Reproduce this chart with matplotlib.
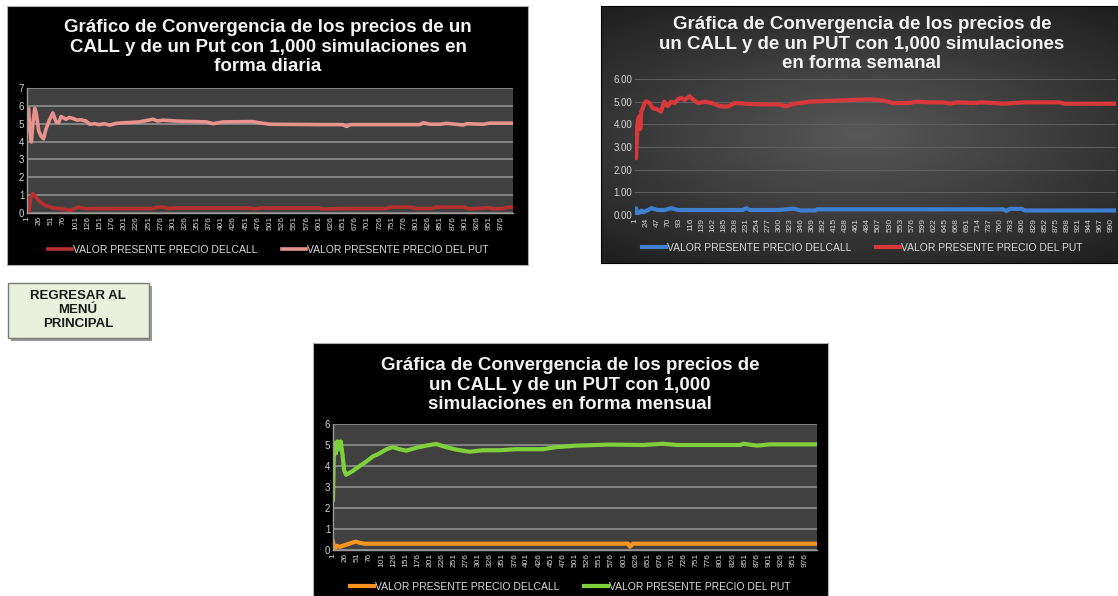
import matplotlib.pyplot as plt
from matplotlib.patches import Rectangle
from matplotlib.colors import LinearSegmentedColormap
import numpy as np

plt.rcParams['font.family'] = ['Liberation Sans', 'DejaVu Sans']

W, H = 1118, 596

# simulacion diaria (numero de simulacion, valor presente)
dia_call_x = [1, 5, 8, 12, 15, 20, 27, 34, 41, 54, 65, 75, 89, 100, 106, 115, 123, 160, 232, 262, 268,
              285, 290, 300, 380, 460, 470, 480, 600, 610, 650, 740, 745, 760, 790, 800, 834, 840,
              900, 910, 950, 960, 980, 990, 1000]
dia_call_y = [0.05, 0.05, 0.8, 1.08, 1.05, 0.85, 0.65, 0.5, 0.4, 0.28, 0.25, 0.22, 0.15, 0.25, 0.33,
              0.27, 0.24, 0.25, 0.25, 0.25, 0.33, 0.32, 0.24, 0.28, 0.28, 0.28, 0.22, 0.28, 0.28,
              0.22, 0.25, 0.25, 0.33, 0.33, 0.33, 0.25, 0.25, 0.33, 0.33, 0.22, 0.3, 0.22, 0.25,
              0.33, 0.33]
dia_put_x = [1, 4, 7, 10, 13, 17, 20, 25, 30, 35, 40, 47, 54, 61, 66, 71, 78, 81, 88, 95, 104, 112,
             122, 130, 140, 150, 160, 171, 184, 200, 232, 260, 270, 280, 308, 370, 384, 404, 465,
             479, 500, 603, 650, 658, 666, 808, 816, 830, 850, 863, 898, 905, 939, 952, 1000]
dia_put_y = [5.1, 5.85, 4.6, 3.98, 5.0, 5.85, 5.6, 4.6, 4.3, 4.15, 4.7, 5.2, 5.6, 5.1, 5.05, 5.4,
             5.3, 5.25, 5.35, 5.3, 5.2, 5.22, 5.15, 4.97, 5.0, 4.95, 5.0, 4.92, 5.02, 5.05, 5.1,
             5.25, 5.15, 5.2, 5.15, 5.1, 5.0, 5.1, 5.12, 5.05, 4.97, 4.95, 4.95, 4.85, 4.95, 4.95,
             5.05, 4.97, 4.97, 5.02, 4.93, 5.0, 4.97, 5.03, 5.03]

# simulacion semanal
sem_call_x = [1, 3, 6, 10, 14, 18, 21, 28, 35, 48, 62, 76, 90, 225, 232, 240, 300, 330, 345, 375,
              380, 766, 772, 780, 805, 810, 1000]
sem_call_y = [0.05, 0.3, 0.08, 0.1, 0.2, 0.12, 0.15, 0.22, 0.3, 0.22, 0.22, 0.3, 0.22, 0.22, 0.3,
              0.22, 0.22, 0.28, 0.2, 0.2, 0.25, 0.25, 0.18, 0.27, 0.27, 0.2, 0.2]
sem_put_x = [1, 3, 5, 7, 10, 12, 14, 17, 21, 24, 31, 38, 48, 55, 62, 69, 76, 83, 90, 97, 104, 114,
             121, 132, 146, 160, 180, 194, 208, 229, 260, 300, 315, 329, 364, 419, 488, 516, 537,
             571, 585, 613, 640, 655, 670, 704, 720, 766, 790, 808, 884, 891, 1000]
sem_put_y = [3.8, 2.5, 3.4, 4.2, 4.35, 3.8, 4.57, 4.7, 4.94, 5.02, 4.94, 4.72, 4.65, 4.57, 5.0,
             4.8, 5.0, 4.94, 5.1, 5.16, 5.08, 5.24, 5.1, 4.94, 5.0, 4.94, 4.79, 4.79, 4.94, 4.91,
             4.88, 4.88, 4.79, 4.9, 5.0, 5.05, 5.1, 5.05, 4.94, 4.94, 5.0, 4.97, 4.97, 4.91, 4.97,
             4.94, 4.97, 4.91, 4.94, 4.97, 4.97, 4.91, 4.91]

# simulacion mensual
men_call_x = [1, 4, 8, 15, 21, 28, 41, 48, 55, 65, 610, 614, 620, 1000]
men_call_y = [0.4, 0.05, 0.2, 0.15, 0.2, 0.25, 0.35, 0.4, 0.35, 0.3, 0.3, 0.15, 0.3, 0.3]
men_put_x = [1, 3, 7, 10, 14, 17, 21, 24, 28, 41, 55, 69, 83, 97, 110, 124, 138, 152, 172, 193,
             214, 234, 255, 283, 310, 345, 379, 434, 462, 503, 572, 641, 683, 710, 841, 848, 876,
             903, 1000]
men_put_y = [2.4, 5.1, 4.6, 5.17, 4.8, 5.17, 4.45, 3.8, 3.58, 3.75, 3.98, 4.2, 4.45, 4.6, 4.78,
             4.9, 4.8, 4.73, 4.86, 4.97, 5.05, 4.9, 4.78, 4.68, 4.75, 4.75, 4.8, 4.8, 4.9, 4.97,
             5.02, 5.0, 5.06, 5.0, 5.0, 5.06, 4.97, 5.03, 5.03]

leg_call = 'VALOR PRESENTE PRECIO DELCALL'
leg_put = 'VALOR PRESENTE PRECIO DEL PUT'


def rect(x0, y0, x1, y1):
    return [x0 / W, 1 - y1 / H, (x1 - x0) / W, (y1 - y0) / H]


def fx(x):
    return x / W


def fy(y):
    return 1 - y / H


fig = plt.figure(figsize=(W / 100, H / 100), dpi=100, facecolor='white')


def panel(box, plot_box, title, tcenter, ttop, ymax, yfmt, step, series, leg_y,
          face='#404040', grid='#8a8a8a', gradient=False, lw=2.6):
    bg = fig.add_axes(rect(*box), zorder=0)
    if gradient:
        gx, gy = np.meshgrid(np.linspace(-1, 1, 200), np.linspace(-1, 1, 100))
        r = np.sqrt((gx * 0.9) ** 2 + (gy * 1.1) ** 2)
        cmap = LinearSegmentedColormap.from_list('g', ['#585858', '#3c3c3c', '#1f1f1f'])
        bg.imshow(r, cmap=cmap, aspect='auto', extent=[0, 1, 0, 1], vmin=0, vmax=1.4)
        bg.set_xlim(0, 1)
        bg.set_ylim(0, 1)
    else:
        bg.set_facecolor('black')
        for s in bg.spines.values():
            s.set_color('#b0b0b0')
            s.set_linewidth(0.8)
    bg.set_xticks([])
    bg.set_yticks([])

    ax = fig.add_axes(rect(*plot_box), zorder=1)
    if face is None:
        ax.patch.set_alpha(0)
        for s in ax.spines.values():
            s.set_visible(False)
    else:
        ax.set_facecolor(face)
        for s in ax.spines.values():
            s.set_color('#9a9a9a')
            s.set_linewidth(1.0)
        ax.spines['top'].set_visible(False)
        ax.spines['right'].set_visible(False)
    for xs, ys, c, lab in series:
        ax.plot(xs, ys, color=c, lw=lw, label=lab, solid_joinstyle='round')
    ax.set_xlim(1, 1000)
    ax.set_ylim(0, ymax)
    ax.set_yticks(range(0, ymax + 1))
    ax.set_yticklabels([yfmt.format(v) for v in range(0, ymax + 1)])
    ax.yaxis.grid(True, color=grid, lw=1.3 if face else 0.8)
    ax.set_axisbelow(True)
    ticks = list(range(1, 1001, step))
    ax.set_xticks(ticks)
    ax.set_xticklabels([str(t) for t in ticks], rotation=90, fontsize=6)
    ax.tick_params(axis='both', length=0, colors='#d4d4d4', pad=2)
    ax.tick_params(axis='y', labelsize=7)

    fig.text(fx(tcenter), fy(ttop), title, ha='center', va='top', color='#f2f2f2',
             fontsize=13.5, fontweight='bold', linespacing=1.2)
    leg = ax.legend(loc='center', bbox_to_anchor=(fx(tcenter), fy(leg_y)),
                    bbox_transform=fig.transFigure, ncol=2, frameon=False, fontsize=7.5,
                    handlelength=2.3, handletextpad=0.1, columnspacing=2.4)
    for t in leg.get_texts():
        t.set_color('#d9d9d9')
    return ax


panel((7, 6, 528, 265), (27, 88, 513, 213),
      'Gráfico de Convergencia de los precios de un\nCALL y de un Put con 1,000 simulaciones en\nforma diaria',
      268, 19, 7, '{:d}', 25,
      [(dia_call_x, dia_call_y, '#b8302e', leg_call), (dia_put_x, dia_put_y, '#e8928d', leg_put)],
      250)

panel((601, 6, 1118, 263), (635, 79, 1116, 215),
      'Gráfica de Convergencia de los precios de\nun CALL y de un PUT con 1,000 simulaciones\nen forma semanal',
      862, 16, 6, '{:.2f}', 23,
      [(sem_call_x, sem_call_y, '#3f7fd0', leg_call), (sem_put_x, sem_put_y, '#d9383a', leg_put)],
      248, face=None, grid='#5e5e5e', gradient=True, lw=3.0)

panel((313, 343, 828, 596), (333, 424, 817, 550),
      'Gráfica de Convergencia de los precios de\nun CALL y de un PUT con 1,000\nsimulaciones en forma mensual',
      570, 357, 6, '{:d}', 25,
      [(men_call_x, men_call_y, '#f7931e', leg_call), (men_put_x, men_put_y, '#7fd13b', leg_put)],
      587, lw=3.0)

# boton de regreso
fig.patches.append(Rectangle((fx(11), fy(341)), 141 / W, 55 / H, transform=fig.transFigure,
                             facecolor='#9a9a9a', edgecolor='none', zorder=0))
fig.patches.append(Rectangle((fx(8), fy(338)), 141 / W, 55 / H, transform=fig.transFigure,
                             facecolor='#e9f0dc', edgecolor='#7a7a7a', lw=1, zorder=1))
fig.text(fx(78), fy(310), 'REGRESAR AL\nMENÚ\nPRINCIPAL', ha='center', va='center',
         fontsize=9.5, fontweight='bold', color='#1a1a1a', linespacing=1.25)

fig.savefig('out.png', dpi=100, facecolor='white')
